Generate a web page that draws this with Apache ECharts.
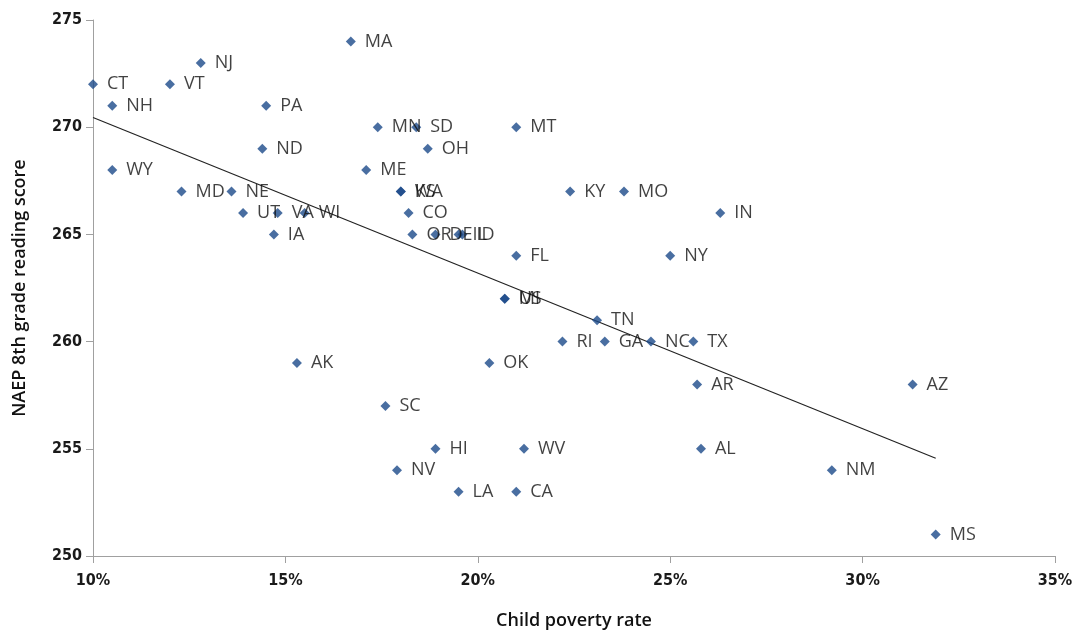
<!DOCTYPE html>
<html>
<head>
<meta charset="utf-8">
<script src="https://cdn.jsdelivr.net/npm/echarts@6/dist/echarts.min.js"></script>
<style>html,body{margin:0;padding:0;background:#fff}#c{width:1079px;height:635px}</style>
</head>
<body>
<div id="c"></div>
<script>
// Child poverty rate (%) per state
const states = ["CT","VT","NJ","NH","PA","MA","ND","WY","MD","NE","UT","VA","WI","IA","ME","MN","SD","OH","KS","WA","CO","OR","DE","IL","ID","MT","FL","NY","MI","US","TN","RI","GA","NC","TX","OK","AR","KY","MO","IN","AK","SC","HI","WV","AL","NV","LA","CA","AZ","NM","MS"];
const poverty = [10.0,12.0,12.8,10.5,14.5,16.7,14.4,10.5,12.3,13.6,13.9,14.8,15.5,14.7,17.1,17.4,18.4,18.7,18.0,18.0,18.2,18.3,18.9,19.5,19.6,21.0,21.0,25.0,20.7,20.7,23.1,22.2,23.3,24.5,25.6,20.3,25.7,22.4,23.8,26.3,15.3,17.6,18.9,21.2,25.8,17.9,19.5,21.0,31.3,29.2,31.9];
// NAEP 8th grade reading score
const reading = [272,272,273,271,271,274,269,268,267,267,266,266,266,265,268,270,270,269,267,267,266,265,265,265,265,270,264,264,262,262,261,260,260,260,260,259,258,267,267,266,259,257,255,255,255,254,253,253,258,254,251];
// Linear trendline endpoints as drawn in the reference
const trendX = [10.0, 31.9];
const trendY = [270.45, 254.56];
const xTicks = [10, 15, 20, 25, 30, 35];
const yTicks = [250, 255, 260, 265, 270, 275];

const pts = states.map((s, i) => ({ name: s, value: [poverty[i], reading[i]] }));
const trend = trendX.map((x, i) => [x, trendY[i]]);

const tickFont = "'DejaVu Sans Condensed', 'Open Sans', sans-serif";
const chart = echarts.init(document.getElementById('c'), null, { renderer: 'canvas' });
chart.setOption({
  animation: false,
  grid: { left: 93, right: 24, top: 20, bottom: 79, containLabel: false },
  xAxis: {
    type: 'value', min: xTicks[0], max: xTicks[xTicks.length - 1], interval: 5,
    name: 'Child poverty rate', nameLocation: 'middle', nameGap: 56,
    nameTextStyle: { fontFamily: 'Open Sans', fontSize: 18, fontWeight: 600, color: '#111' },
    axisLine: { show: true, lineStyle: { color: '#a0a0a0', width: 1 } },
    axisTick: { show: true, length: 7, lineStyle: { color: '#a0a0a0' } },
    axisLabel: { formatter: v => v + '%', fontFamily: tickFont, fontSize: 16, fontWeight: 'bold', color: '#1a1a1a', margin: 17 },
    splitLine: { show: false }
  },
  yAxis: {
    type: 'value', min: yTicks[0], max: yTicks[yTicks.length - 1], interval: 5,
    name: 'NAEP 8th grade reading score', nameLocation: 'middle', nameGap: 64, nameRotate: 90,
    nameTextStyle: { fontFamily: 'Open Sans', fontSize: 18, fontWeight: 600, color: '#111' },
    axisLine: { show: true, lineStyle: { color: '#a0a0a0', width: 1 } },
    axisTick: { show: true, length: 7, lineStyle: { color: '#a0a0a0' } },
    axisLabel: { fontFamily: tickFont, fontSize: 16, fontWeight: 'bold', color: '#1a1a1a', margin: 11 },
    splitLine: { show: false }
  },
  series: [
    {
      type: 'line', data: trend, symbol: 'none', silent: true,
      lineStyle: { color: '#222', width: 1.2 }, z: 1
    },
    {
      type: 'scatter', data: pts, symbol: 'diamond', symbolSize: 10,
      itemStyle: { color: '#1c4a8a' }, z: 2,
      label: {
        show: true, position: 'right', distance: 9, formatter: p => p.name,
        fontFamily: 'Open Sans', fontSize: 18, color: '#111'
      },
      labelLayout: { hideOverlap: false }
    }
  ]
});
</script>
</body>
</html>
